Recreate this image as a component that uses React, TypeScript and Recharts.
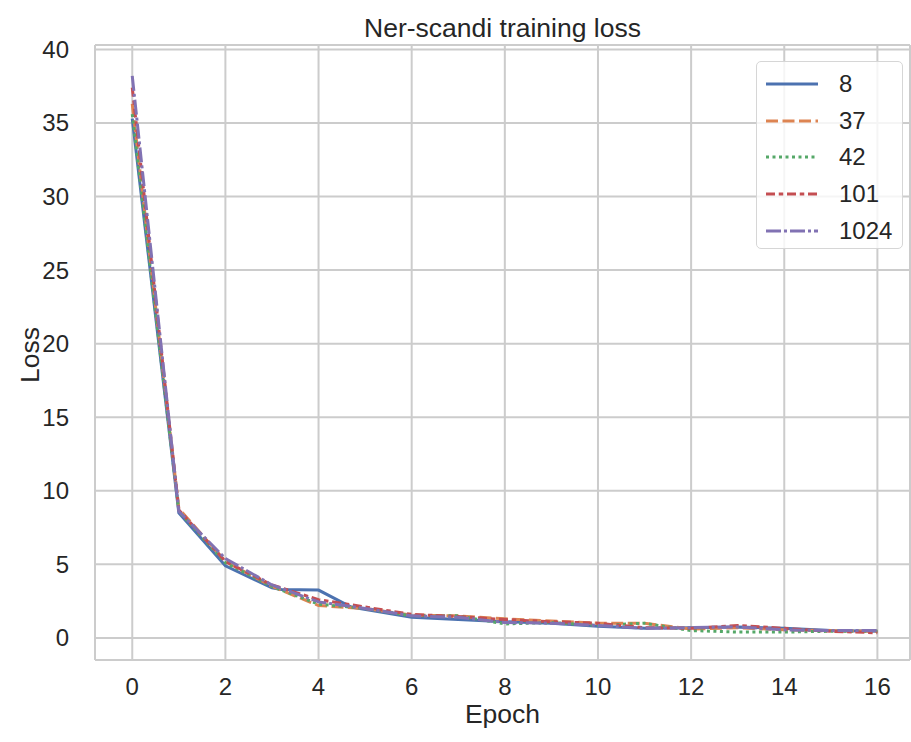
import { LineChart, Line, XAxis, YAxis, CartesianGrid, ReferenceLine } from 'recharts';

// Epochs shared by most of the seeds
const EPOCHS = [0, 1, 2, 3, 4, 5, 6, 7, 8, 9, 10, 11, 12, 13, 14, 15, 16];

// Seed 8 logged a few extra points
const EPOCHS_8 = [0, 1, 2, 3, 3.2, 4, 4.7, 6, 7, 8, 9, 10, 11, 12, 13, 14, 15, 16];
const LOSS_8 = [35.3, 8.5, 4.9, 3.4, 3.3, 3.25, 2.1, 1.4, 1.25, 1.1, 1.0, 0.8, 0.65, 0.7, 0.75, 0.65, 0.5, 0.45];

const LOSS_37 = [36.3, 8.8, 5.2, 3.5, 2.2, 2.0, 1.55, 1.5, 1.3, 1.15, 1.0, 1.0, 0.6, 0.7, 0.55, 0.5, 0.45];
const LOSS_42 = [35.6, 8.6, 5.1, 3.5, 2.3, 2.0, 1.5, 1.5, 0.95, 1.05, 0.85, 1.0, 0.5, 0.4, 0.4, 0.45, 0.45];
const LOSS_101 = [37.4, 8.7, 5.2, 3.6, 2.6, 2.1, 1.6, 1.45, 1.25, 1.1, 1.0, 0.7, 0.65, 0.85, 0.65, 0.45, 0.35];
const LOSS_1024 = [38.2, 8.6, 5.4, 3.6, 2.45, 2.0, 1.5, 1.4, 1.05, 1.0, 0.85, 0.65, 0.7, 0.75, 0.55, 0.5, 0.5];

const X_TICKS = [0, 2, 4, 6, 8, 10, 12, 14, 16];
const Y_TICKS = [0, 5, 10, 15, 20, 25, 30, 35, 40];

const toPoints = (xs: number[], ys: number[]) => xs.map((x, i) => ({ epoch: x, loss: ys[i] }));

const SERIES = [
  { name: '8', data: toPoints(EPOCHS_8, LOSS_8), color: '#4c72b0', dash: undefined },
  { name: '37', data: toPoints(EPOCHS, LOSS_37), color: '#dd8452', dash: '12 4.5' },
  { name: '42', data: toPoints(EPOCHS, LOSS_42), color: '#55a868', dash: '3 3.5' },
  { name: '101', data: toPoints(EPOCHS, LOSS_101), color: '#c44e52', dash: '9 3.75 4.5 3.75' },
  { name: '1024', data: toPoints(EPOCHS, LOSS_1024), color: '#8172b3', dash: '15 3 3 3' },
];

const FONT = '"Liberation Sans", Arial, sans-serif';
const TEXT = '#262626';
const GRID = '#cccccc';
const LW = 3;

function LegendBox() {
  return (
    <div
      style={{
        position: 'absolute',
        left: 756,
        top: 61,
        width: 147,
        height: 188,
        border: '1.5px solid #d6d6d6',
        borderRadius: 5,
        background: 'rgba(255,255,255,0.8)',
        padding: '4px 0 0 8px',
        fontFamily: FONT,
        fontSize: 24,
        color: TEXT,
        boxSizing: 'border-box',
      }}
    >
      {SERIES.map((s) => (
        <div key={s.name} style={{ display: 'flex', alignItems: 'center', height: 36.6 }}>
          <svg width={54} height={10} style={{ marginRight: 20, flex: 'none' }}>
            <line x1={1} y1={5} x2={53} y2={5} stroke={s.color} strokeWidth={LW} strokeDasharray={s.dash} />
          </svg>
          <span>{s.name}</span>
        </div>
      ))}
    </div>
  );
}

export default function App() {
  return (
    <div style={{ position: 'absolute', left: 0, top: 0, width: 911, height: 742, background: '#fff' }}>
      <div
        style={{
          position: 'absolute', left: 95, width: 815, top: 12, textAlign: 'center',
          fontFamily: FONT, fontSize: 26.5, color: TEXT, lineHeight: '32px',
        }}
      >
        Ner-scandi training loss
      </div>
      <div
        style={{
          position: 'absolute', left: 95, width: 815, top: 701, textAlign: 'center',
          fontFamily: FONT, fontSize: 26.5, color: TEXT, lineHeight: '26px',
        }}
      >
        Epoch
      </div>
      <div
        style={{
          position: 'absolute', left: 30, top: 355, transform: 'translate(-50%, -50%) rotate(-90deg)',
          fontFamily: FONT, fontSize: 26.5, color: TEXT, whiteSpace: 'nowrap', lineHeight: '32px',
        }}
      >
        Loss
      </div>
      <LineChart width={911} height={742} margin={{ top: 45, right: 1, bottom: 22, left: 0 }}>
        <CartesianGrid stroke={GRID} strokeWidth={2} horizontalValues={Y_TICKS} verticalValues={X_TICKS} />
        <XAxis
          type="number"
          dataKey="epoch"
          domain={[-0.8, 16.7]}
          ticks={X_TICKS}
          allowDataOverflow
          height={60}
          tickLine={false}
          axisLine={{ stroke: GRID, strokeWidth: 2 }}
          tick={{ fill: TEXT, fontSize: 24, fontFamily: FONT }}
          tickMargin={12}
        />
        <YAxis
          type="number"
          dataKey="loss"
          domain={[-1.5, 40.3]}
          ticks={Y_TICKS}
          allowDataOverflow
          width={95}
          tickLine={false}
          axisLine={{ stroke: GRID, strokeWidth: 2 }}
          tick={{ fill: TEXT, fontSize: 24, fontFamily: FONT }}
          tickMargin={20}
        />
        <ReferenceLine y={40.3} stroke={GRID} strokeWidth={2} />
        <ReferenceLine x={16.7} stroke={GRID} strokeWidth={2} />
        {SERIES.map((s) => (
          <Line
            key={s.name}
            data={s.data}
            dataKey="loss"
            name={s.name}
            type="linear"
            stroke={s.color}
            strokeWidth={LW}
            strokeDasharray={s.dash}
            dot={false}
            activeDot={false}
            isAnimationActive={false}
          />
        ))}
      </LineChart>
      <LegendBox />
    </div>
  );
}
